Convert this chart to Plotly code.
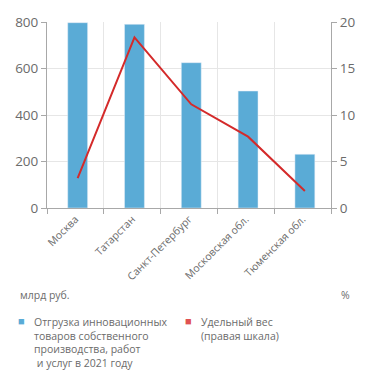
import plotly.graph_objects as go

categories = ["Москва", "Татарстан", "Санкт-Петербург", "Московская обл.", "Тюменская обл."]
shipments = [797, 790, 625, 503, 231]
share = [3.2, 18.35, 11.15, 7.67, 1.83]
bar_name = "Отгрузка инновационных<br>товаров собственного<br>производства, работ<br> и услуг в 2021 году"
line_name = "Удельный вес<br>(правая шкала)"
left_unit = "млрд руб."
right_unit = "%"

bar_color = "#5aabd6"
line_color = "#d42a2a"
legend_red = "#e05252"
font_family = "Open Sans, Noto Sans, sans-serif"
gray = "#6b6b6b"
axis_gray = "#a8a8a8"
grid_gray = "#e6e6e6"

L, R, T, B = 47, 331, 22, 208
SHIFT = 0.04  # marks sit slightly right of category centres in the reference
def px(x):
    return (x - L) / (R - L)
def py(y):
    return (B - y) / (B - T)

fig = go.Figure()
fig.add_trace(go.Bar(x=categories, y=shipments, marker_color=bar_color, width=0.35,
                     offset=-0.175 + SHIFT,
                     name=bar_name, showlegend=False, yaxis="y"))
fig.add_trace(go.Scatter(x=categories, y=share, mode="lines", line=dict(color=line_color, width=2),
                         name=line_name, showlegend=False, xaxis="x2", yaxis="y2"))

small = dict(size=10.5, color=gray)
annotations = [
    dict(text=left_unit, x=px(18), y=py(294.5), xanchor="left", yanchor="middle", font=small),
    dict(text=right_unit, x=px(352), y=py(294.5), xanchor="right", yanchor="middle", font=small),
    dict(text="■", x=px(21.7), y=py(320), xanchor="center", yanchor="middle",
         font=dict(size=11, color=bar_color)),
    dict(text=bar_name, x=px(31.5), y=py(313), xanchor="left", yanchor="top", align="left", font=small),
    dict(text="■", x=px(188.3), y=py(320), xanchor="center", yanchor="middle",
         font=dict(size=11, color=legend_red)),
    dict(text=line_name, x=px(199), y=py(313), xanchor="left", yanchor="top", align="left", font=small),
]
for a in annotations:
    a.update(xref="paper", yref="paper", showarrow=False)

fig.update_layout(
    width=371, height=383,
    margin=dict(l=L, r=371 - R, t=T, b=383 - B, autoexpand=False),
    plot_bgcolor="white", paper_bgcolor="white",
    font=dict(family=font_family, color=gray, size=12),
    showlegend=False,
    xaxis=dict(tickson="boundaries", showgrid=True, gridcolor=grid_gray, gridwidth=1,
               showline=True, linecolor=axis_gray, ticks="outside", ticklen=5, tickcolor=axis_gray,
               tickangle=-45, tickfont=dict(size=10.5, color=gray), fixedrange=True,
               range=[-0.5, 4.5]),
    xaxis2=dict(overlaying="x", visible=False, range=[-0.5 - SHIFT, 4.5 - SHIFT],
                categoryorder="array", categoryarray=categories),
    yaxis=dict(range=[0, 800], dtick=200, showgrid=True, gridcolor=grid_gray,
               showline=True, linecolor=axis_gray, ticks="outside", ticklen=5, tickcolor=axis_gray,
               tickfont=dict(size=13.5, color=gray), zeroline=False),
    yaxis2=dict(range=[0, 20], dtick=5, overlaying="y", side="right", showgrid=False,
                showline=True, linecolor=axis_gray, ticks="outside", ticklen=5, tickcolor=axis_gray,
                tickfont=dict(size=13.5, color=gray), zeroline=False),
    annotations=annotations,
)

fig.write_html("out.html", config={"displayModeBar": False},
               post_script="document.body.style.margin='0';")
